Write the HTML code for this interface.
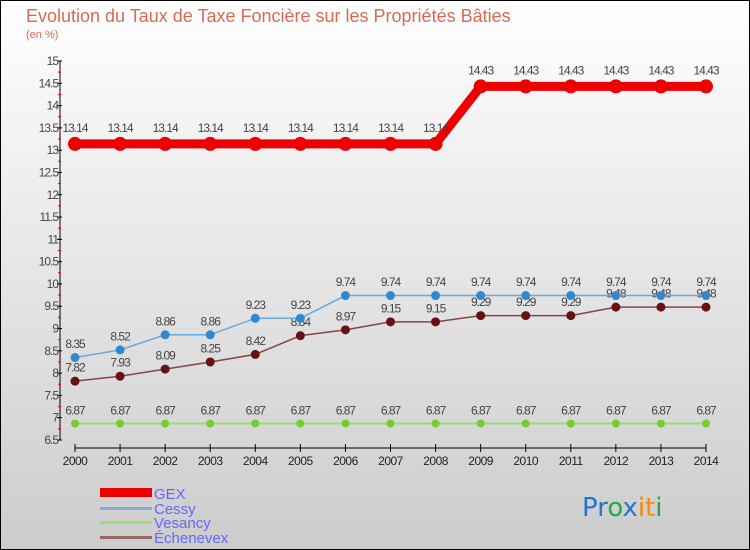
<!DOCTYPE html>
<html><head><meta charset="utf-8"><style>
body{margin:0}
svg{display:block;font-family:"Liberation Sans",sans-serif}
</style></head><body>
<svg id="c" width="750" height="550" viewBox="0 0 750 550">
<defs><linearGradient id="bg" x1="0" y1="0" x2="0" y2="1"><stop offset="0" stop-color="#ffffff"/><stop offset="1" stop-color="#cccccc"/></linearGradient></defs>
<rect x="0.5" y="0.5" width="749" height="549" fill="url(#bg)" stroke="#000"/>
<text x="26" y="22" font-size="18" fill="#d86a55">Evolution du Taux de Taxe Foncière sur les Propriétés Bâties</text>
<text x="26" y="38" font-size="11" fill="#d86a55">(en %)</text>
<g id="axes"></g><g id="series"></g>
<g>
<rect x="100" y="488" width="52" height="9" fill="#e00"/>
<text x="154" y="499" font-size="15" fill="#6666ff">GEX</text>
<rect x="100" y="507" width="52" height="3" fill="#7fafd0"/>
<text x="154" y="514" font-size="15" fill="#6666ff">Cessy</text>
<rect x="100" y="521" width="52" height="3" fill="#99dd77"/>
<text x="154" y="528" font-size="15" fill="#6666ff">Vesancy</text>
<rect x="100" y="536" width="52" height="3" fill="#996666"/>
<text x="154" y="543" font-size="15" fill="#6666ff">Échenevex</text>
</g>
<text x="582" y="516" font-size="26" font-family="'DejaVu Sans',sans-serif"><tspan fill="#2277cc">Pr</tspan><tspan fill="#22aa44">o</tspan><tspan fill="#2277cc">x</tspan><tspan fill="#ff8800">it</tspan><tspan fill="#22aa44">i</tspan></text>
</svg>
<script>
const years=[2000,2001,2002,2003,2004,2005,2006,2007,2008,2009,2010,2011,2012,2013,2014];
const gex=[13.14,13.14,13.14,13.14,13.14,13.14,13.14,13.14,13.14,14.43,14.43,14.43,14.43,14.43,14.43];
const cessy=[8.35,8.52,8.86,8.86,9.23,9.23,9.74,9.74,9.74,9.74,9.74,9.74,9.74,9.74,9.74];
const vesancy=[6.87,6.87,6.87,6.87,6.87,6.87,6.87,6.87,6.87,6.87,6.87,6.87,6.87,6.87,6.87];
const echenevex=[7.82,7.93,8.09,8.25,8.42,8.84,8.97,9.15,9.15,9.29,9.29,9.29,9.48,9.48,9.48];
const yTicks=[6.5,7,7.5,8,8.5,9,9.5,10,10.5,11,11.5,12,12.5,13,13.5,14,14.5,15];
const NS='http://www.w3.org/2000/svg';
const yMin=6.5,yMax=15,yTop=61,yBot=440,x0=75,x1=706;
const X=i=>x0+(x1-x0)*i/(years.length-1);
const Y=v=>yBot-(v-yMin)/(yMax-yMin)*(yBot-yTop);
function mk(t,a,p){const e=document.createElementNS(NS,t);for(const k in a)e.setAttribute(k,a[k]);p.appendChild(e);return e;}
const ax=document.getElementById('axes'),se=document.getElementById('series');
const yl=mk('line',{x1:60,y1:yTop,x2:60,y2:yBot,stroke:'#000'},ax);


yTicks.forEach((v,i)=>{
 const y=Y(v);
 mk('line',{x1:57,y1:y,x2:62,y2:y,stroke:'#000'},ax);
 const t=mk('text',{x:58,y:y+4,'font-size':12,'text-anchor':'end',fill:'#444','letter-spacing':'-1'},ax);
 t.textContent=v;
 
 
 if(i<yTicks.length-1){const yy=y-(yBot-yTop)/(yTicks.length-1)/2;mk('line',{x1:58,y1:yy,x2:61,y2:yy,stroke:'#e00'},ax);}
});
const xl=mk('line',{x1:x0,y1:448,x2:x1,y2:448,stroke:'#000'},ax);


years.forEach((yr,i)=>{
 mk('line',{x1:X(i),y1:444,x2:X(i),y2:452,stroke:'#000'},ax);
 const t=mk('text',{x:X(i),y:465,'font-size':12,'text-anchor':'middle',fill:'#222','letter-spacing':'-0.5'},ax);
 t.textContent=yr;
 
 
});
function series(name,data,color,lw,r,dot){
 const g=mk('g',{},se);
 
 
 const pts=data.map((v,i)=>X(i)+','+Y(v)).join(' ');
 mk('polyline',{points:pts,fill:'none',stroke:color,'stroke-width':lw},g);
 data.forEach((v,i)=>{
  const c=mk('circle',{cx:X(i),cy:Y(v),r:r,fill:dot},g);
  
  
  const t=mk('text',{x:X(i),y:Y(v)-(r+5),'font-size':12,'text-anchor':'middle',fill:'#444','letter-spacing':'-1'},g);
  t.textContent=v;
  
  
 });
}
series('vesancy',vesancy,'#99dd77',2,4,'#77cc33');
series('echenevex',echenevex,'#884444',1.5,4.5,'#661111');
series('cessy',cessy,'#66aadd',1.5,4.5,'#3388cc');
series('gex',gex,'#ee0000',9,7,'#ee0000');
</script>
</body></html>
